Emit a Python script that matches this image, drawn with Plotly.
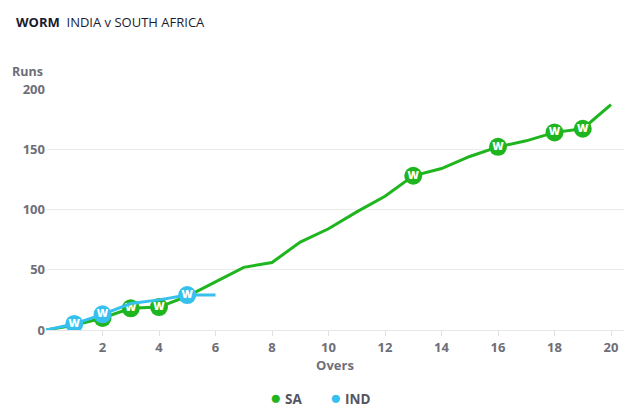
import plotly.graph_objects as go

overs_sa = list(range(0, 21))
runs_sa = [0, 4, 10, 18, 19, 28, 40, 52, 56, 73, 84, 98, 111, 128, 134, 144, 152, 157, 164, 167, 187]
sa_wicket_overs = [2, 3, 4, 13, 16, 18, 19]

overs_ind = list(range(0, 7))
runs_ind = [0, 5, 13, 22, 25, 29, 29]
ind_wicket_overs = [1, 2, 5]

x_ticks = [2, 4, 6, 8, 10, 12, 14, 16, 18, 20]
y_ticks = [0, 50, 100, 150, 200]

teams = ["SA", "IND"]

GREEN = "#1fb51f"
BLUE = "#36c0ee"
GRAY = "#6e6e78"
FONT = "Open Sans"

fig = go.Figure()

def add_team(name, overs, runs, wk, color):
    fig.add_trace(go.Scatter(x=overs, y=runs, mode="lines", line=dict(color=color, width=3),
                             name=name, showlegend=False, hoverinfo="skip"))
    wy = [runs[overs.index(o)] for o in wk]
    fig.add_trace(go.Scatter(x=wk, y=wy, mode="markers+text", text=["W"] * len(wk),
                             textposition="middle center",
                             textfont=dict(color="white", size=11, family=FONT, weight=800),
                             marker=dict(color=color, size=18, line=dict(color=color, width=0)),
                             showlegend=False, hoverinfo="skip"))

add_team(teams[0], overs_sa, runs_sa, sa_wicket_overs, GREEN)
add_team(teams[1], overs_ind, runs_ind, ind_wicket_overs, BLUE)

plot_h = 414 - 89 - 84
plot_w = 640 - 46 - 16

def px_x(p):
    return (p - 46) / plot_w

def px_y(p):
    return (414 - 84 - p) / plot_h

annotations = [
    dict(text="<b>WORM</b>  INDIA v SOUTH AFRICA", x=px_x(14), y=px_y(22),
         font=dict(size=13, color="#1a1a2e", family=FONT)),
    dict(text="<b>Runs</b>", x=px_x(10), y=px_y(71),
         font=dict(size=12.5, color=GRAY, family=FONT)),
]
legend_pos = [268, 328]
for name, color, lx in zip(teams, [GREEN, BLUE], legend_pos):
    annotations.append(dict(text=f"<span style='color:{color};font-size:19px'>●</span> <b>{name}</b>",
                            x=px_x(lx), y=px_y(397),
                            font=dict(size=13.5, color="#55555f", family=FONT)))
for a in annotations:
    a.update(xref="paper", yref="paper", xanchor="left", yanchor="middle", showarrow=False)

fig.update_layout(
    width=640, height=414,
    margin=dict(l=46, r=16, t=89, b=84, autoexpand=False),
    paper_bgcolor="white", plot_bgcolor="white",
    font=dict(family=FONT, color=GRAY),
    showlegend=False,
    xaxis=dict(range=[0, 20.46], tickvals=x_ticks, showgrid=False, zeroline=False, automargin=False,
               showline=True, linecolor="#e6e6e6", linewidth=1,
               ticks="outside", ticklen=5, tickcolor="#e0e0e0",
               tickfont=dict(size=13, color=GRAY, family=FONT, weight=700),
               title=dict(text="Overs", font=dict(size=13, color=GRAY, family=FONT, weight=700), standoff=6)),
    yaxis=dict(range=[0, 200], tickvals=y_ticks, showgrid=True, gridcolor="#ebebeb", zeroline=False,
               automargin=False,
               tickfont=dict(size=13, color=GRAY, family=FONT, weight=700), ticksuffix="  "),
    annotations=annotations,
)

fig.write_html("out.html")
